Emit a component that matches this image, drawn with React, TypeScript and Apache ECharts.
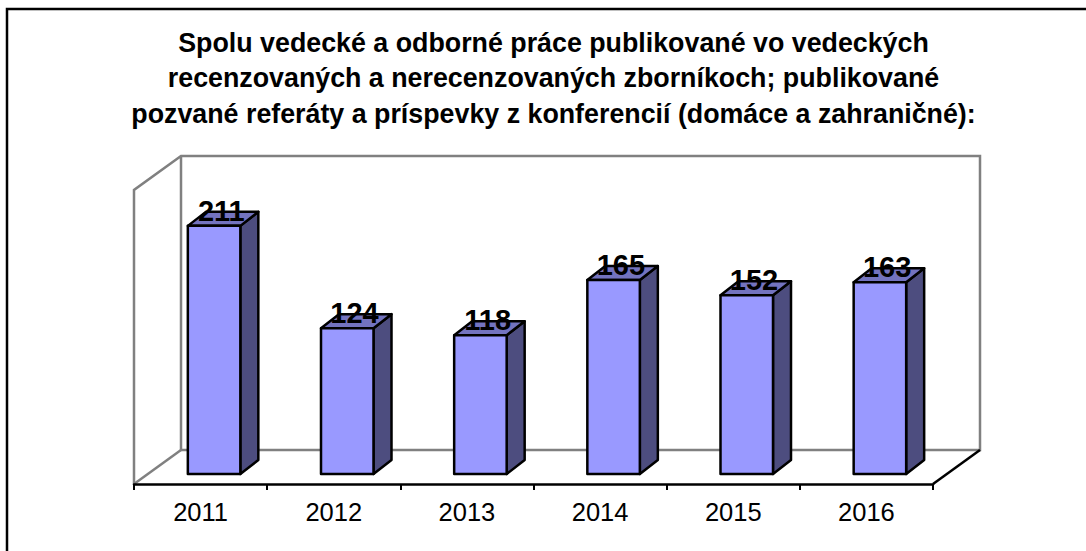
import React, { useEffect, useRef } from "react";
import * as echarts from "echarts";

const titleLines = [
  "Spolu vedecké a odborné práce publikované vo vedeckých",
  "recenzovaných a nerecenzovaných zborníkoch; publikované",
  "pozvané referáty a príspevky z konferencií (domáce a zahraničné):",
];
const categories = ["2011", "2012", "2013", "2014", "2015", "2016"];
const values = [211, 124, 118, 165, 152, 163];

const FONT = '"Liberation Sans", Arial, sans-serif';
const GRID = { left: 134, right: 933, top: 190, bottom: 484 };
const WALL = { dx: 47, dy: -34 };
const BAR = { width: 52.5, dx: 18, dy: -14, shiftX: 13.5, shiftY: -10 };

function renderBar(params: any, api: any) {
  const cat = api.value(0);
  const val = api.value(1);
  const top = api.coord([cat, val]);
  const base = api.coord([cat, 0]);
  const x0 = top[0] + BAR.shiftX - BAR.width / 2;
  const x1 = x0 + BAR.width;
  const yt = top[1] + BAR.shiftY;
  const yb = base[1] + BAR.shiftY;
  const line = { stroke: "#000", lineWidth: 2.5, lineJoin: "round" };
  return {
    type: "group",
    children: [
      {
        type: "polygon",
        shape: { points: [[x1, yt], [x1 + BAR.dx, yt + BAR.dy], [x1 + BAR.dx, yb + BAR.dy], [x1, yb]] },
        style: { fill: "#4d4d7f", ...line },
      },
      {
        type: "polygon",
        shape: { points: [[x0, yt], [x0 + BAR.dx, yt + BAR.dy], [x1 + BAR.dx, yt + BAR.dy], [x1, yt]] },
        style: { fill: "#7373bf", ...line },
      },
      { type: "rect", shape: { x: x0, y: yt, width: BAR.width, height: yb - yt }, style: { fill: "#9999ff", ...line } },
      {
        type: "text",
        x: x0 + 33.5,
        y: yt - 15,
        style: {
          text: String(val),
          fill: "#000",
          font: `bold 29px ${FONT}`,
          textAlign: "center",
          textVerticalAlign: "middle",
        },
      },
    ],
  };
}

const gray = { stroke: "#808080", lineWidth: 2.5 };

export default function App() {
  const ref = useRef<HTMLDivElement>(null);
  useEffect(() => {
    const chart = echarts.init(ref.current!, null, { renderer: "svg" });
    const { left, right, top, bottom } = GRID;
    const { dx, dy } = WALL;
    chart.setOption({
      animation: false,
      backgroundColor: "#fff",
      title: {
        text: titleLines.join("\n"),
        left: 548.5,
        top: 20,
        textAlign: "center",
        textStyle: { fontFamily: FONT, fontWeight: "bold", fontSize: 26.8, lineHeight: 35.5, color: "#000" },
      },
      grid: { left, top, width: right - left, height: bottom - top, containLabel: false },
      xAxis: {
        type: "category",
        data: categories,
        z: 5,
        axisLine: { show: true, lineStyle: { color: "#000", width: 2.5 } },
        axisTick: { show: true, length: 6, alignWithLabel: false, lineStyle: { color: "#000", width: 2 } },
        axisLabel: { color: "#000", fontFamily: FONT, fontSize: 25.5, margin: 15 },
        splitLine: { show: false },
      },
      yAxis: {
        type: "value",
        min: 0,
        max: 250,
        interval: 50,
        axisLine: { show: false },
        axisTick: { show: false },
        axisLabel: { show: false },
        splitLine: { show: false },
      },
      graphic: [
        {
          type: "polyline",
          z: 1,
          shape: { points: [[7, 560], [7, 9], [1090, 9]] },
          style: { stroke: "#000", lineWidth: 2.5, fill: "none" },
        },
        {
          type: "polyline",
          z: 2,
          shape: {
            points: [
              [left, bottom],
              [left, top],
              [left + dx, top + dy],
              [right + dx, top + dy],
              [right + dx, bottom + dy],
              [left + dx, bottom + dy],
              [left + dx, top + dy],
            ],
          },
          style: { ...gray, fill: "none" },
        },
        { type: "line", z: 2, shape: { x1: left, y1: bottom, x2: left + dx, y2: bottom + dy }, style: gray },
        { type: "line", z: 2, shape: { x1: right, y1: bottom, x2: right + dx, y2: bottom + dy }, style: { stroke: "#000", lineWidth: 2.5 } },
      ],
      series: [
        {
          type: "custom",
          z: 10,
          clip: false,
          encode: { x: 0, y: 1 },
          data: values.map((v, i) => [i, v]),
          renderItem: renderBar,
        },
      ],
    });
    return () => chart.dispose();
  }, []);
  return <div ref={ref} style={{ position: "fixed", left: 0, top: 0, width: 1086, height: 551 }} />;
}
